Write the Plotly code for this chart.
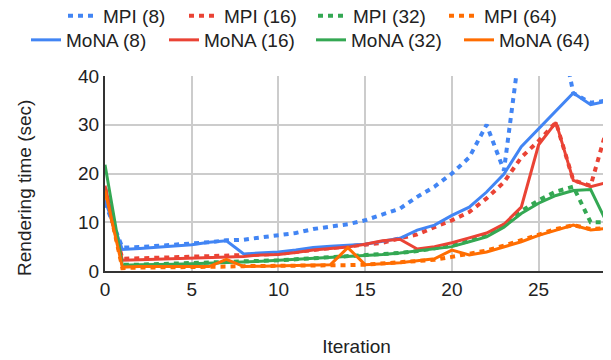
import plotly.graph_objects as go

iterations = list(range(30))

mpi_8 = [14.0, 4.8, 4.9, 5.1, 5.3, 5.5, 5.9, 6.3, 6.4, 6.9, 7.3, 7.8, 8.6, 9.0, 9.6, 10.4, 11.6, 12.8, 15.2, 17.3,
         20.0, 23.3, 30.0, 20.6, 48.0, 58.0, 54.0, 36.5, 34.5, 35.0]
mpi_16 = [16.0, 2.5, 2.6, 2.7, 2.8, 2.9, 3.0, 3.1, 3.2, 3.4, 3.5, 3.9, 4.3, 4.9, 5.1, 5.4, 5.8, 6.7, 7.5, 9.0,
          10.4, 12.1, 14.9, 18.2, 23.3, 26.7, 30.5, 18.6, 17.5, 30.0]
mpi_32 = [17.0, 1.3, 1.3, 1.4, 1.5, 1.6, 1.7, 1.8, 1.9, 2.0, 2.2, 2.4, 2.6, 2.8, 3.0, 3.1, 3.4, 3.7, 4.1, 4.6,
          5.2, 6.2, 7.3, 9.4, 12.3, 14.5, 16.3, 17.3, 10.0, 10.0]
mpi_64 = [17.0, 0.6, 0.7, 0.7, 0.8, 0.8, 0.9, 0.9, 1.0, 1.0, 1.1, 1.1, 1.2, 1.2, 1.2, 1.3, 1.5, 1.7, 2.0, 2.3,
          2.9, 3.5, 4.2, 5.2, 6.3, 7.5, 8.6, 9.4, 8.6, 8.8]

mona_8 = [14.5, 4.4, 4.6, 4.9, 5.1, 5.4, 5.9, 6.2, 3.5, 3.7, 3.9, 4.3, 4.8, 5.1, 5.3, 5.5, 6.1, 6.7, 8.4, 9.4,
          11.4, 13.1, 16.2, 19.9, 25.5, 29.1, 32.9, 36.5, 34.1, 34.9]
mona_16 = [17.5, 2.2, 2.3, 2.4, 2.5, 2.6, 2.8, 2.9, 3.0, 3.3, 3.4, 3.8, 4.3, 4.6, 4.9, 5.5, 6.2, 6.5, 4.5, 5.0,
           5.8, 6.8, 7.8, 9.6, 13.1, 25.9, 30.5, 18.6, 17.3, 18.2]
mona_32 = [21.8, 1.2, 1.3, 1.3, 1.4, 1.5, 1.6, 1.7, 1.9, 2.0, 2.2, 2.4, 2.6, 2.8, 3.0, 3.1, 3.4, 3.7, 4.1, 4.6,
           5.0, 6.0, 7.0, 9.0, 11.8, 13.9, 15.5, 16.5, 16.7, 9.4]
mona_64 = [16.5, 0.8, 0.9, 0.9, 0.9, 0.9, 0.9, 2.4, 0.9, 1.0, 1.1, 1.2, 1.3, 1.3, 4.8, 1.3, 1.5, 1.7, 2.1, 2.5,
           4.3, 3.3, 3.9, 5.0, 6.0, 7.3, 8.4, 9.4, 8.4, 8.8]

colors = ["#4285F4", "#EA4335", "#34A853", "#FF6D01"]
labels = ["8", "16", "32", "64"]
mpi_legend_widths = [76, None, 86, None]
mona_legend_widths = [93, None, 103, None]
mpi_legends = ["legend", "legend", "legend3", "legend3"]
mona_legends = ["legend2", "legend2", "legend4", "legend4"]

fig = go.Figure()
for ys, c, lab, lw, lg in zip([mpi_8, mpi_16, mpi_32, mpi_64], colors, labels, mpi_legend_widths, mpi_legends):
    fig.add_trace(go.Scatter(x=iterations, y=ys, mode="lines", name=f"MPI ({lab})", legendwidth=lw,
                             line=dict(color=c, width=4, dash="5px,5px"), legend=lg))
for ys, c, lab, lw, lg in zip([mona_8, mona_16, mona_32, mona_64], colors, labels, mona_legend_widths, mona_legends):
    fig.add_trace(go.Scatter(x=iterations, y=ys, mode="lines", name=f"MoNA ({lab})", legendwidth=lw,
                             line=dict(color=c, width=3), legend=lg))

font = dict(family="Liberation Sans, Arial, sans-serif", size=19, color="#222222")

W, H = 603, 352


def leg(xpx, ypx):
    return dict(orientation="h", xref="container", yref="container", x=xpx / W, y=1 - ypx / H,
                xanchor="left", yanchor="middle", font=font, itemwidth=30, bgcolor="rgba(0,0,0,0)")


fig.update_layout(
    width=W, height=H,
    margin=dict(l=97, r=3, t=68, b=89),
    paper_bgcolor="white", plot_bgcolor="white",
    font=font,
    legend=leg(55, 8),
    legend3=leg(305, 8),
    legend2=leg(18, 32),
    legend4=leg(303, 32),
    xaxis=dict(range=[0, 29], dtick=5, tick0=0, showgrid=True, gridcolor="#cccccc", gridwidth=2,
               showline=True, linecolor="#333333", linewidth=2, zeroline=False, ticks="",
               automargin=False, title=dict(text="Iteration", standoff=41, font=font), tickfont=font),
    yaxis=dict(range=[0, 40], dtick=10, tick0=0, showgrid=True, gridcolor="#cccccc", gridwidth=2,
               showline=True, linecolor="#333333", linewidth=2, zeroline=False, ticks="",
               automargin=False, tickfont=font),
    annotations=[dict(text="Rendering time (sec)", xref="paper", yref="paper", x=0, y=0.426,
                      xanchor="center", yanchor="middle", xshift=-80, textangle=-90,
                      showarrow=False, font=font)],
)

fig.write_html("out.html")
